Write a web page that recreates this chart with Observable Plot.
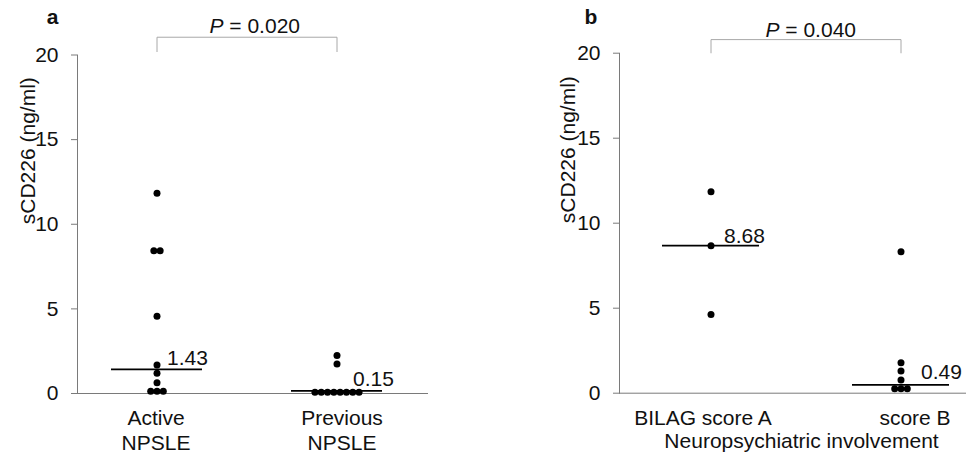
<!DOCTYPE html>
<html><head><meta charset="utf-8">
<script src="https://cdn.jsdelivr.net/npm/d3@7"></script>
<script src="https://cdn.jsdelivr.net/npm/@observablehq/plot@0.6"></script>
<style>
body{margin:0;background:#fff;}
#row{display:flex;width:966px;height:453px;}
#row svg{font-family:"Liberation Sans", Arial, sans-serif;}
</style></head><body><div id="row"></div>
<script>
// ---- data ----
const groupsA = ["Active\nNPSLE", "Previous\nNPSLE"];
const activeValues = [11.83, 8.43, 8.43, 4.57, 1.69, 1.2, 0.63, 0.14, 0.14, 0.14];
const previousValues = [2.24, 1.75, 0.08, 0.08, 0.08, 0.08, 0.08, 0.08, 0.08, 0.08];
const mediansA = [1.43, 0.15];
const pValueA = "0.020";
const bracketA = [20.2, 21.05];

const groupsB = ["BILAG score A", "score B"];
const scoreAValues = [11.85, 8.68, 4.63];
const scoreBValues = [8.32, 1.79, 1.3, 0.77, 0.26, 0.26, 0.26];
const mediansB = [8.68, 0.49];
const pValueB = "0.040";
const bracketB = [20.02, 20.8];

const yTicks = [0, 5, 10, 15, 20];
const yLabel = "sCD226 (ng/ml)";
const xLabelB = "Neuropsychiatric involvement";
const panelLetters = ["a", "b"];

// ---- styles ----
const INK = "#111";
const AXIS = "#7a7a7a";
const BRACKET = "#a8a8a8";
const SPACING = 6.3;
const FS = 21;

function buildRows(groups, lists) {
  const rows = [];
  groups.forEach((g, gi) => {
    const vals = lists[gi];
    const counts = d3.rollup(vals, v => v.length, v => v);
    const seen = new Map();
    vals.forEach(v => {
      const k = counts.get(v);
      const j = seen.get(v) || 0;
      seen.set(v, j + 1);
      rows.push({group: g, value: v, slot: j - (k - 1) / 2});
    });
  });
  return rows;
}

function panel(cfg) {
  const rows = buildRows(cfg.groups, cfg.values);
  const slots = [...new Set(rows.map(d => d.slot))];
  const medRows = cfg.groups.map((g, i) => ({group: g, value: cfg.medians[i]}));
  const bracket = [
    {group: cfg.groups[0], y: cfg.bracket[0]},
    {group: cfg.groups[0], y: cfg.bracket[1]},
    {group: cfg.groups[1], y: cfg.bracket[1]},
    {group: cfg.groups[1], y: cfg.bracket[0]}
  ];
  const marks = [
    Plot.frame({anchor: "left", stroke: AXIS}),
    Plot.frame({anchor: "bottom", stroke: AXIS}),
    Plot.axisY({ticks: yTicks, tickSize: 6, tickPadding: 13, stroke: AXIS, fill: INK, fontSize: FS, label: null}),
    ...cfg.groups.map((g, i) => Plot.axisX({ticks: [g], tickSize: 0, tickPadding: 14, dx: cfg.tickDx[i], lineHeight: 1.17, fill: INK, fontSize: FS, label: null})),
    Plot.text([yLabel], {frameAnchor: "left", rotate: -90, dx: cfg.yLabelDx, fontSize: FS, fill: INK}),
    Plot.tickY(medRows, {x: "group", y: "value", stroke: "#000", strokeWidth: 1.8}),
    ...slots.map(s => Plot.dot(rows.filter(d => d.slot === s), {x: "group", y: "value", r: 3.5, fill: "#000", dx: s * SPACING})),
    ...medRows.map((m, i) => Plot.text([m], {x: "group", y: "value", text: d => d.value.toFixed(2), textAnchor: "start", lineAnchor: "bottom", dx: cfg.medDx[i], dy: cfg.medDy[i], fontSize: FS, fill: INK})),
    Plot.line(bracket, {x: "group", y: "y", stroke: BRACKET, strokeWidth: 1}),
    Plot.text(["P"], {frameAnchor: "top-left", dx: cfg.pDx, dy: cfg.pDy, textAnchor: "end", lineAnchor: "bottom", fontStyle: "italic", fontSize: FS, fill: INK}),
    Plot.text(["\u00a0= " + cfg.p], {frameAnchor: "top-left", dx: cfg.pDx, dy: cfg.pDy, textAnchor: "start", lineAnchor: "bottom", fontSize: FS, fill: INK}),
    Plot.text([cfg.letter], {frameAnchor: "top-left", dx: cfg.letterDx, dy: cfg.letterDy, textAnchor: "middle", lineAnchor: "bottom", fontWeight: "bold", fontSize: FS, fill: INK})
  ];
  if (cfg.xLabel) marks.push(Plot.text([cfg.xLabel], {frameAnchor: "bottom", dx: cfg.xLabelDx, dy: cfg.xLabelDy, lineAnchor: "bottom", fontSize: FS, fill: INK}));
  return Plot.plot({
    width: 483, height: 453,
    marginLeft: cfg.margins[0], marginRight: cfg.margins[1], marginTop: cfg.margins[2], marginBottom: cfg.margins[3],
    style: {fontFamily: "Liberation Sans, Arial, sans-serif", fontSize: FS + "px", color: INK, background: "#fff", overflow: "visible"},
    x: {type: "band", domain: cfg.groups, paddingInner: cfg.band[0], paddingOuter: cfg.band[1], align: cfg.band[2]},
    y: {domain: [0, 20]},
    marks
  });
}

const row = document.getElementById("row");
row.append(panel({
  groups: groupsA, values: [activeValues, previousValues], medians: mediansA, p: pValueA, bracket: bracketA,
  letter: panelLetters[0],
  margins: [77, 56, 54.5, 60], band: [0.494, 0.219, 0.437],
  tickDx: [-1, 5], yLabelDx: -49, medDx: [10, 16], medDy: [-4, -5],
  pDx: 146, pDy: -21.8, letterDx: -25, letterDy: -31.5
}));
row.append(panel({
  groups: groupsB, values: [scoreAValues, scoreBValues], medians: mediansB, p: pValueB, bracket: bracketB,
  letter: panelLetters[1], xLabel: xLabelB, xLabelDx: 8.5, xLabelDy: 55,
  margins: [136, 0, 52.7, 60.3], band: [0.487, 0.155, 0.727],
  tickDx: [-8, 14], yLabelDx: -51, medDx: [13, 20], medDy: [-3, -6],
  pDx: 160, pDy: -16, letterDx: -28.5, letterDy: -29.7
}));
</script>
</body></html>
